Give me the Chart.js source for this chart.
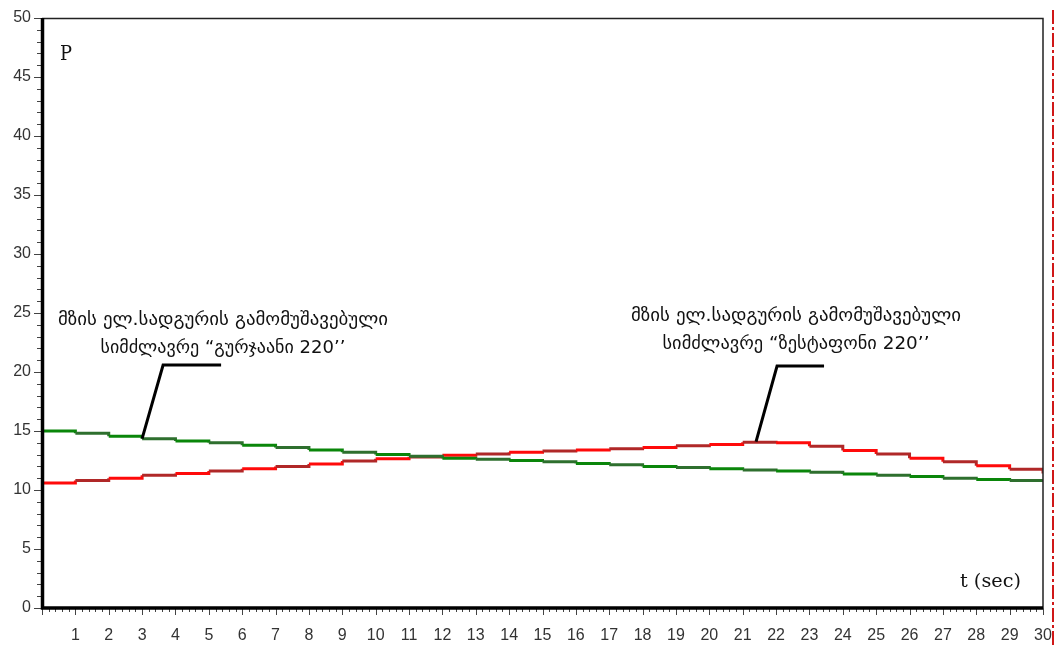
<!DOCTYPE html>
<html>
<head>
<meta charset="utf-8">
<script src="https://cdn.jsdelivr.net/npm/chart.js@4.4.1/dist/chart.umd.min.js"></script>
<style>
  html, body { margin: 0; padding: 0; background: #fff; }
  canvas { display: block; }
</style>
</head>
<body>
<canvas id="powerChart" width="1062" height="648"></canvas>
<script>
// time, seconds
const seconds = [0, 1, 2, 3, 4, 5, 6, 7, 8, 9, 10, 11, 12, 13, 14, 15, 16, 17, 18, 19, 20,
                 21, 22, 23, 24, 25, 26, 27, 28, 29, 30];
// output power of the two solar plants
const gurjaani = [15.0, 14.8, 14.55, 14.35, 14.15, 14.0, 13.8, 13.6, 13.4, 13.2, 13.0,
                  12.85, 12.7, 12.6, 12.5, 12.4, 12.25, 12.15, 12.0, 11.9, 11.8,
                  11.7, 11.6, 11.5, 11.35, 11.25, 11.15, 11.0, 10.9, 10.8, 10.7];
const zestaponi = [10.6, 10.8, 11.0, 11.25, 11.4, 11.6, 11.8, 12.0, 12.2, 12.45, 12.65,
                   12.8, 12.95, 13.05, 13.2, 13.3, 13.4, 13.5, 13.6, 13.75, 13.85,
                   14.05, 14.0, 13.7, 13.35, 13.05, 12.7, 12.4, 12.05, 11.75, 11.4];

const yTickStep = 5;
const noteTexts = [
  ['მზის ელ.სადგურის გამომუშავებული', 'სიმძლავრე “გურჯაანი 220’’'],
  ['მზის ელ.სადგურის გამომუშავებული', 'სიმძლავრე “ზესტაფონი 220’’']
];
// where each callout touches its curve: [t, P]
const noteAnchors = [[3, 14.35], [21.4, 14.1]];

const toPoints = arr => arr.map((v, i) => ({ x: seconds[i], y: v }));
const altColor = (a, b) => ctx => (ctx.p0DataIndex % 2 ? b : a);

// text squeezed or stretched to a given width
function fitText(ctx, txt, x0, y0, w) {
  const mw = ctx.measureText(txt).width;
  ctx.save();
  ctx.translate(x0, y0);
  ctx.scale(w / mw, 1);
  ctx.fillText(txt, 0, 0);
  ctx.restore();
}

// frame, tick marks, callouts and axis captions
const decorations = {
  id: 'decorations',
  afterDraw(chart) {
    const { ctx, chartArea: ca, scales: { x, y } } = chart;
    ctx.save();

    // top and right border
    ctx.strokeStyle = '#222';
    ctx.lineWidth = 1.5;
    ctx.beginPath();
    ctx.moveTo(ca.left, ca.top + 0.5);
    ctx.lineTo(ca.right, ca.top + 0.5);
    ctx.lineTo(ca.right, ca.bottom);
    ctx.stroke();

    // red dash-dot line on the right
    ctx.strokeStyle = '#d01818';
    ctx.lineWidth = 2;
    ctx.setLineDash([14, 3, 3, 3]);
    ctx.beginPath();
    ctx.moveTo(ca.right + 10, 10);
    ctx.lineTo(ca.right + 10, 648);
    ctx.stroke();
    ctx.setLineDash([]);

    // minor ticks on x every 0.2 s
    ctx.strokeStyle = '#444';
    ctx.lineWidth = 1;
    for (let i = 0; i <= 150; i++) {
      const px = Math.round(x.getPixelForValue(i / 5)) + 0.5;
      const len = i % 5 === 0 ? 7 : 4;
      ctx.beginPath();
      ctx.moveTo(px, ca.bottom);
      ctx.lineTo(px, ca.bottom + len);
      ctx.stroke();
    }
    // ticks on y every 1
    for (let v = 0; v <= 50; v++) {
      const py = Math.round(y.getPixelForValue(v)) + 0.5;
      const len = v % yTickStep === 0 ? 8 : 5;
      ctx.beginPath();
      ctx.moveTo(ca.left, py);
      ctx.lineTo(ca.left - len, py);
      ctx.stroke();
    }

    // heavy left and bottom axes
    ctx.strokeStyle = '#000';
    ctx.lineWidth = 3.5;
    ctx.beginPath();
    ctx.moveTo(ca.left + 0.5, ca.top);
    ctx.lineTo(ca.left + 0.5, ca.bottom);
    ctx.lineTo(ca.right, ca.bottom);
    ctx.stroke();

    // callouts
    const textPos = [
      { cx: 223, y1: 320, y2: 348, w1: 330, w2: 245, knee: 365, dx: 21, shelf: 58 },
      { cx: 796, y1: 316, y2: 344, w1: 330, w2: 267, knee: 366, dx: 21, shelf: 47 }
    ];
    ctx.fillStyle = '#111';
    ctx.textAlign = 'center';
    ctx.textBaseline = 'middle';
    ctx.font = '18px "DejaVu Sans"';
    noteTexts.forEach((lines, k) => {
      const p = textPos[k];
      fitText(ctx, lines[0], p.cx, p.y1, p.w1);
      fitText(ctx, lines[1], p.cx, p.y2, p.w2);
      const ax = x.getPixelForValue(noteAnchors[k][0]);
      const ay = y.getPixelForValue(noteAnchors[k][1]);
      ctx.strokeStyle = '#000';
      ctx.lineWidth = 3;
      ctx.beginPath();
      ctx.moveTo(ax, ay);
      ctx.lineTo(ax + p.dx, p.knee);
      ctx.lineTo(ax + p.dx + p.shelf, p.knee);
      ctx.stroke();
    });

    // axis captions
    ctx.textAlign = 'left';
    ctx.textBaseline = 'alphabetic';
    ctx.font = '20px "DejaVu Serif"';
    fitText(ctx, 'P', 60, 60, 12);
    ctx.font = '18px "DejaVu Serif"';
    fitText(ctx, 't (sec)', 960, 587, 61);

    ctx.restore();
  }
};

new Chart(document.getElementById('powerChart'), {
  type: 'line',
  data: {
    datasets: [
      {
        label: 'გურჯაანი 220',
        data: toPoints(gurjaani),
        borderColor: '#008000',
        borderWidth: 3,
        stepped: true,
        pointRadius: 0,
        segment: { borderColor: altColor('#0a860a', '#2e6f2e') }
      },
      {
        label: 'ზესტაფონი 220',
        data: toPoints(zestaponi),
        borderColor: '#ff0000',
        borderWidth: 3,
        stepped: true,
        pointRadius: 0,
        segment: { borderColor: altColor('#ff0a0a', '#b02828') }
      }
    ]
  },
  options: {
    responsive: false,
    animation: false,
    layout: { padding: { top: 18, right: 19, left: 0, bottom: 0 } },
    plugins: { legend: { display: false }, tooltip: { enabled: false } },
    scales: {
      x: {
        type: 'linear',
        min: 0,
        max: 30,
        border: { display: false },
        grid: { display: false, drawTicks: false },
        ticks: {
          stepSize: 1,
          autoSkip: false,
          maxRotation: 0,
          padding: 18,
          color: '#333',
          font: { family: '"Liberation Sans", Arial', size: 16 },
          callback: v => (v === 0 ? '' : v)
        },
        afterFit: s => { s.height = 40; s.paddingLeft = 0; s.paddingRight = 0; }
      },
      y: {
        min: 0,
        max: 50,
        border: { display: false },
        grid: { display: false, drawTicks: false },
        ticks: {
          stepSize: yTickStep,
          padding: 11,
          color: '#333',
          font: { family: '"Liberation Sans", Arial', size: 16 }
        },
        afterFit: s => { s.width = 42; s.paddingTop = 0; s.paddingBottom = 0; }
      }
    }
  },
  plugins: [decorations]
});
</script>
</body>
</html>
